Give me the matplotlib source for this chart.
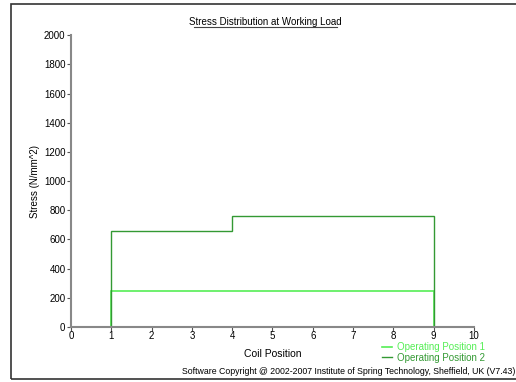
import matplotlib.pyplot as plt
from matplotlib.patches import Rectangle

plt.rcParams['font.family'] = ['Liberation Sans', 'DejaVu Sans']

# coil position boundaries and stress per segment
edges = [0, 1, 4, 9, 10]
pos1 = [0, 250, 250, 0]
pos2 = [0, 660, 760, 0]
labels = ['Operating Position 1', 'Operating Position 2']
c1 = '#55ee55'
c2 = '#339933'

fig = plt.figure(figsize=(5.16, 3.82), dpi=100)
ax = fig.add_axes([0.1376, 0.144, 0.781, 0.764])

ax.stairs(pos1, edges, color=c1, lw=1.2, label=labels[0])
ax.stairs(pos2, edges, color=c2, lw=1.0, label=labels[1])

ax.set_xlim(0, 10)
ax.set_ylim(0, 2000)
ax.set_xticks(range(0, 11))
ax.set_yticks(range(0, 2001, 200))
for s in ['top', 'right']:
    ax.spines[s].set_visible(False)
for s in ['left', 'bottom']:
    ax.spines[s].set_color('#888888')
    ax.spines[s].set_linewidth(1.5)
ax.tick_params(labelsize=7, length=3, width=0.8, color='#555555', pad=1)
ax.tick_params(axis='x', pad=0)
ax.set_xlabel('Coil Position', fontsize=7.5, labelpad=6)
ax.set_ylabel('Stress (N/mm^2)', fontsize=7)
ax.yaxis.set_label_coords(-0.078, 0.5)

fig.text(0.514, 0.942, 'Stress Distribution at Working Load', fontsize=7,
         ha='center', va='center')
fig.add_artist(plt.Line2D([0.375, 0.653], [0.929, 0.929], color='#444444', lw=0.8))

leg = fig.legend(loc='lower right', bbox_to_anchor=(0.94, 0.05), fontsize=7,
                 frameon=False, handlelength=1.0, handletextpad=0.5,
                 labelspacing=0.05, borderpad=0, borderaxespad=0)
for t, c in zip(leg.get_texts(), [c1, c2]):
    t.set_color(c)

fig.text(0.998, 0.028, 'Software Copyright @ 2002-2007 Institute of Spring Technology, Sheffield, UK (V7.43)',
         fontsize=6.3, ha='right', va='center')

fig.add_artist(Rectangle((0.022, 0.007), 1.0, 0.982, transform=fig.transFigure,
                         fill=False, ec='#333333', lw=1.2))

fig.savefig('out.png', dpi=100)
